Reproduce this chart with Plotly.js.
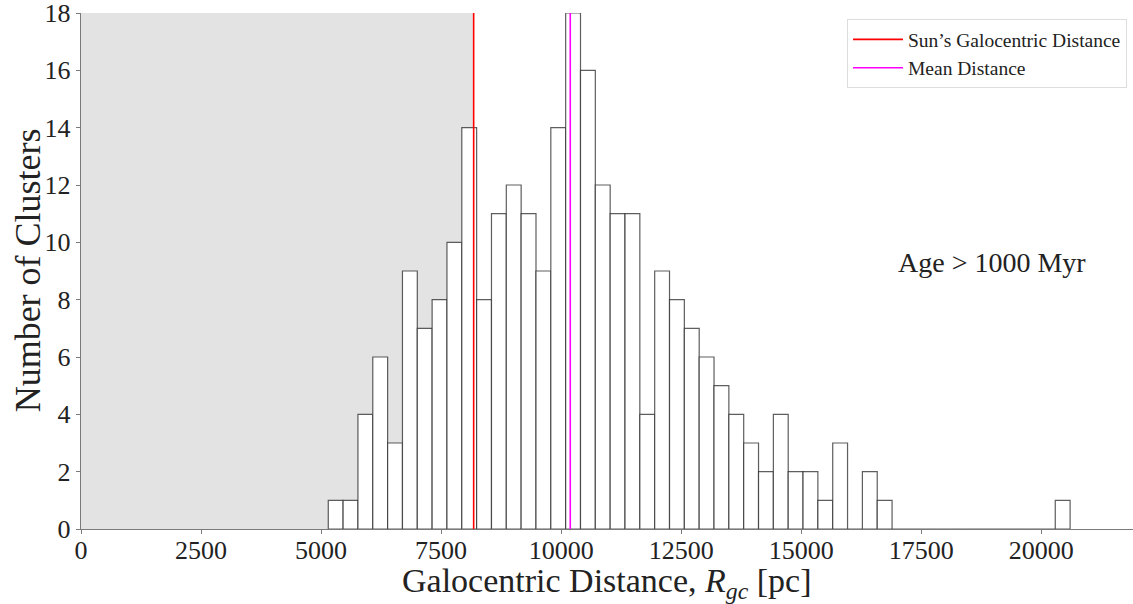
<!DOCTYPE html>
<html>
<head>
<meta charset="utf-8">
<script src="https://cdn.plot.ly/plotly-3.0.1.min.js"></script>
<style>html,body{margin:0;padding:0;background:#fff;}#chart{width:1133px;height:604px;}</style>
</head>
<body>
<div id="chart"></div>
<script>
// Histogram of galocentric distances (50 equal bins)
const binStart = 5150;      // left edge of first bin [pc]
const binWidth = 309;       // bin width [pc]
const counts = [1, 1, 4, 6, 3, 9, 7, 8, 10, 14,
                8, 11, 12, 11, 9, 14, 18, 16, 12, 11,
                11, 4, 9, 8, 7, 6, 5, 4, 3, 2,
                4, 2, 2, 1, 3, 0, 2, 1, 0, 0,
                0, 0, 0, 0, 0, 0, 0, 0, 0, 1];
const sunDistance = 8178;   // Sun's galocentric distance [pc]
const meanDistance = 10190; // mean cluster distance [pc]
const xTicks = [0, 2500, 5000, 7500, 10000, 12500, 15000, 17500, 20000];
const yTicks = [0, 2, 4, 6, 8, 10, 12, 14, 16, 18];
const legendLabels = ["Sun\u2019s Galocentric Distance", "Mean Distance"];
const ageLabel = "Age &gt; 1000 Myr";
const xTitle = "Galocentric Distance, <i>R</i><sub><i>gc</i></sub> [pc]";
const yTitle = "Number of Clusters";

const binCenters = counts.map((_, i) => binStart + binWidth * (i + 0.5));
const FONT = "'Liberation Serif', 'DejaVu Serif', serif";

const traces = [
  {
    type: 'bar', x: binCenters, y: counts, width: binWidth,
    marker: {color: '#ffffff', line: {color: 'rgba(40,40,40,0.75)', width: 1.2}},
    showlegend: false, hoverinfo: 'x+y'
  },
  {
    type: 'scatter', mode: 'lines', x: [sunDistance, sunDistance], y: [0, 18],
    line: {color: '#ff0000', width: 1.6}, name: legendLabels[0]
  },
  {
    type: 'scatter', mode: 'lines', x: [meanDistance, meanDistance], y: [0, 18],
    line: {color: '#ff00ff', width: 1.6}, name: legendLabels[1]
  }
];

const layout = {
  width: 1133, height: 604,
  margin: {l: 81, r: 0, t: 13, b: 75, pad: 0},
  paper_bgcolor: '#ffffff', plot_bgcolor: '#ffffff',
  font: {family: FONT, color: '#222222'},
  bargap: 0,
  xaxis: {
    range: [0, 21910], tickvals: xTicks, ticktext: xTicks.map(String),
    showgrid: false, zeroline: false, showline: true, linecolor: '#7a7a7a', linewidth: 1.2,
    ticks: 'outside', ticklen: 4, tickcolor: '#7a7a7a', ticklabelstandoff: -6,
    ticklabeloverflow: 'allow',
    tickfont: {family: FONT, size: 26, color: '#222'}
  },
  yaxis: {
    range: [0, 18], tickvals: yTicks, ticktext: yTicks.map(String),
    showgrid: false, zeroline: false, showline: true, linecolor: '#7a7a7a', linewidth: 1.2,
    ticks: 'outside', ticklen: 4, tickcolor: '#7a7a7a', ticklabeloverflow: 'allow',
    tickfont: {family: FONT, size: 26, color: '#222'}
  },
  shapes: [{
    type: 'rect', xref: 'x', yref: 'y', x0: 0, x1: sunDistance, y0: 0, y1: 18,
    fillcolor: '#e3e3e3', line: {width: 0}, layer: 'below'
  }],
  legend: {
    x: 0.9943, xanchor: 'right', y: 0.988, yanchor: 'top',
    bgcolor: '#ffffff', bordercolor: '#dddddd', borderwidth: 1,
    font: {family: FONT, size: 19.5, color: '#222'}, itemwidth: 50
  },
  annotations: [
    {
      xref: 'paper', yref: 'paper', x: 0.866, y: 0.5174, xanchor: 'center', yanchor: 'middle',
      text: ageLabel, showarrow: false, font: {family: FONT, size: 28, color: '#222'}
    },
    {
      xref: 'paper', yref: 'paper', x: 0.5, y: -0.104, xanchor: 'center', yanchor: 'middle',
      text: xTitle, showarrow: false, font: {family: FONT, size: 34, color: '#222'}
    },
    {
      xref: 'paper', yref: 'paper', x: -0.05, y: 0.502, xanchor: 'center', yanchor: 'middle',
      text: yTitle, textangle: -90, showarrow: false, font: {family: FONT, size: 36, color: '#222'}
    }
  ]
};

Plotly.newPlot('chart', traces, layout, {displayModeBar: false, staticPlot: true});
</script>
</body>
</html>
